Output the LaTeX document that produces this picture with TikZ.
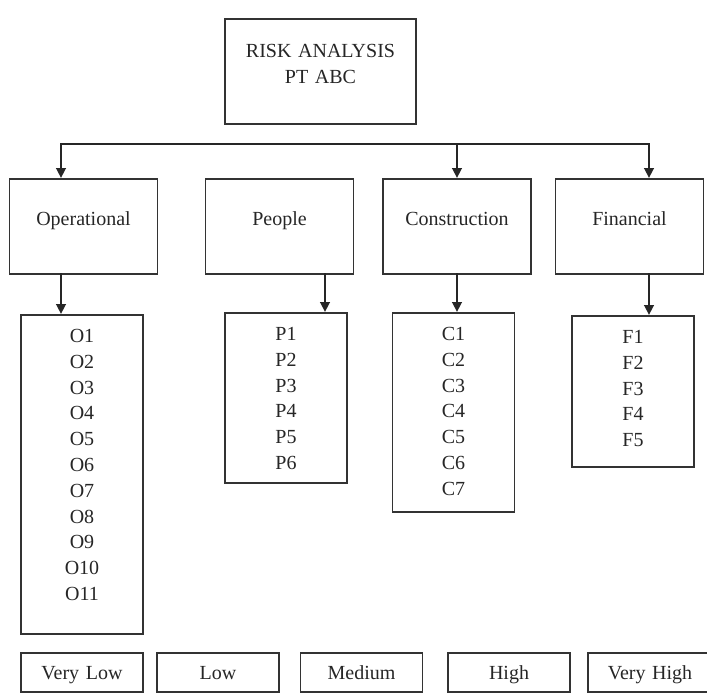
\documentclass[tikz,border=0pt]{standalone}
\usepackage{fontspec}
\setmainfont{Liberation Serif}
\usetikzlibrary{arrows.meta}

\begin{document}
\begin{tikzpicture}[x=1pt, y=-1pt,
    box/.style={draw=black!80, line width=1.8pt, inner sep=0pt, align=center,
      anchor=north, text=black!85, font=\fontsize{20}{25.8}\selectfont},
    cat/.style={box, text width=148pt, text height=46.6pt, text depth=48.4pt},
    list/.style={box, text width=122pt, text height=27.6pt},
    level/.style={box, text width=122pt, text height=26.6pt, text depth=12.4pt},
    conn/.style={draw=black!85, line width=2.8pt, line cap=rect},
    arrow/.style={conn, -{Triangle[length=10pt, width=9.5pt]}}]
    % Page size
    \useasboundingbox (0,0) rectangle (707,694);
    % Top box
    \node[box, text width=191pt, text height=38.6pt, text depth=66.4pt] (risk) at (320.5,18) {RISK ANALYSIS\\PT ABC};
    % Risk categories
    \node[cat] (ops) at (83.5,178) {Operational};
    \node[cat] (people) at (279.5,178) {People};
    \node[cat] (constr) at (457,178) {Construction};
    \node[cat] (fin) at (629.5,178) {Financial};
    % Risk lists
    \node[list, text depth=291.4pt] (olist) at (82,314) {O1\\O2\\O3\\O4\\O5\\O6\\O7\\O8\\O9\\O10\\O11};
    \node[list, text depth=142.4pt] (plist) at (286,312) {P1\\P2\\P3\\P4\\P5\\P6};
    \node[list, text depth=171.4pt] (clist) at (453.5,312) {C1\\C2\\C3\\C4\\C5\\C6\\C7};
    \node[list, text depth=123.4pt] (flist) at (633,315) {F1\\F2\\F3\\F4\\F5};
    % Risk levels
    \node[level] (vlow) at (82,652) {Very Low};
    \node[level] (low) at (218,652) {Low};
    \node[level] (med) at (361.5,652) {Medium};
    \node[level] (high) at (509,652) {High};
    \node[level, text width=124pt] (vhigh) at (650,652) {Very High};
    % Branch line
    \coordinate (bw) at (61,144);
    \coordinate (be) at (649,144);
    \coordinate (pdrop) at (325,0);
    \draw[conn] (bw) -- (be);
    \draw[arrow] (bw) -- (bw |- ops.north);
    \draw[arrow] (constr.north |- bw) -- (constr.north);
    \draw[arrow] (be) -- (be |- fin.north);
    % Arrows to the lists
    \draw[arrow] (ops.south -| bw) -- (olist.north -| bw);
    \draw[arrow] (people.south -| pdrop) -- (plist.north -| pdrop);
    \draw[arrow] (constr.south) -- (constr.south |- clist.north);
    \draw[arrow] (fin.south -| be) -- (flist.north -| be);
\end{tikzpicture}
\end{document}
